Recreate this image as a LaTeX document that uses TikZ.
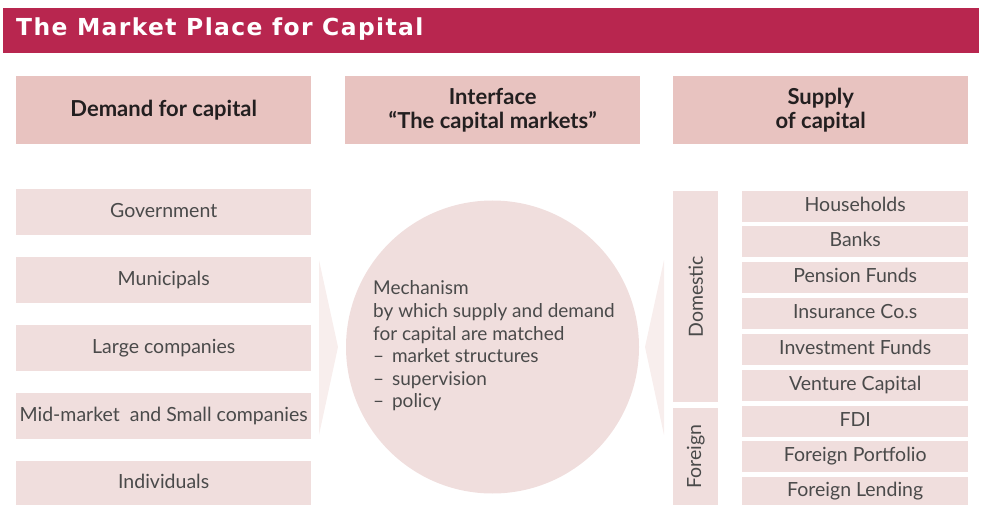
\documentclass[tikz,border=0pt]{standalone}
\usepackage{fontspec}
\setmainfont{Lato}
\newfontfamily\titlefont[LetterSpace=6]{DejaVu Sans}
\definecolor{barred}{HTML}{B8264F}
\definecolor{headpink}{HTML}{E8C3C0}
\definecolor{lightpink}{HTML}{F0DEDD}
\definecolor{chevpink}{HTML}{F8EEED}
\definecolor{bodytext}{HTML}{4A4A4A}
\definecolor{headtext}{HTML}{231F20}
\begin{document}
\begin{tikzpicture}[x=1pt,y=-1pt,
  headbox/.style={fill=headpink, inner sep=0pt, anchor=north west, minimum width=295pt, minimum height=68pt,
    text=headtext, align=center, font=\bfseries\fontsize{22}{24}\selectfont},
  demandbox/.style={fill=lightpink, inner sep=0pt, anchor=north west, minimum width=295pt, minimum height=46pt,
    text=bodytext, text height=14pt, text depth=4pt, font=\fontsize{19.5}{22}\selectfont},
  supplybox/.style={fill=lightpink, inner sep=0pt, anchor=north west, minimum width=226pt, minimum height=31pt,
    text=bodytext, text height=14pt, text depth=4pt, font=\fontsize{19.5}{22}\selectfont},
  groupbox/.style={fill=lightpink, inner sep=0pt, anchor=north west, minimum width=45pt},
  grouplabel/.style={rotate=90, text=bodytext, font=\fontsize{19.5}{22}\selectfont},
  chevron/.style={fill=chevpink, draw=none}
]
\useasboundingbox (0,0) rectangle (983,505);
% title bar
\node[fill=barred, inner sep=0pt, anchor=north west, minimum width=976pt, minimum height=45pt] (bar) at (3,8) {};
\node[anchor=west, text=white, inner sep=0pt, font=\titlefont\bfseries\fontsize{23.4}{27}\selectfont] (title) at (16,29.5) {The Market Place for Capital};
% headers
\node[headbox] (hdemand) at (16,76) {Demand for capital};
\node[headbox] (hiface) at (345,76) {Interface\\“The capital markets”};
\node[headbox] (hsupply) at (673,76) {Supply\\of capital};
% demand boxes
\node[demandbox] (gov) at (16,189) {Government};
\node[demandbox] (mun) at (16,257) {Municipals};
\node[demandbox] (large) at (16,325) {Large companies};
\node[demandbox] (mid) at (16,393) {Mid-market\ \ and Small companies};
\node[demandbox, minimum height=44pt] (ind) at (16,461) {Individuals};
% chevrons
\fill[chevron] (319,260) -- (338,347) -- (319,435) -- cycle;
\fill[chevron] (664,260) -- (645,347) -- (664,435) -- cycle;
% circle
\node[circle, fill=lightpink, minimum size=293pt, inner sep=0pt] (mech) at (492.5,347) {};
\node[anchor=west, align=left, inner sep=0pt, text=bodytext, font=\fontsize{19}{22.6}\selectfont] (mechtext) at (373,346)
  {Mechanism\\by which supply and demand\\for capital are matched\\–\hspace{3pt} market structures\\–\hspace{3pt} supervision\\–\hspace{3pt} policy};
% supply groups
\node[groupbox, minimum height=211pt] (dom) at (673,191) {};
\node[grouplabel] (domlabel) at (dom.center) {Domestic};
\node[groupbox, minimum height=97pt] (for) at (673,408) {};
\node[grouplabel] (forlabel) at (for.center) {Foreign};
% supply boxes
\node[supplybox] (hh) at (742,190.5) {Households};
\node[supplybox] (banks) at (742,226.3) {Banks};
\node[supplybox] (pens) at (742,262.1) {Pension Funds};
\node[supplybox] (ins) at (742,297.9) {Insurance Co.s};
\node[supplybox] (inv) at (742,333.7) {Investment Funds};
\node[supplybox] (vc) at (742,369.5) {Venture Capital};
\node[supplybox] (fdi) at (742,405.3) {FDI};
\node[supplybox] (fp) at (742,441.1) {Foreign Portfolio};
\node[supplybox, minimum height=28.1pt] (fl) at (742,476.9) {Foreign Lending};
\end{tikzpicture}
\end{document}
